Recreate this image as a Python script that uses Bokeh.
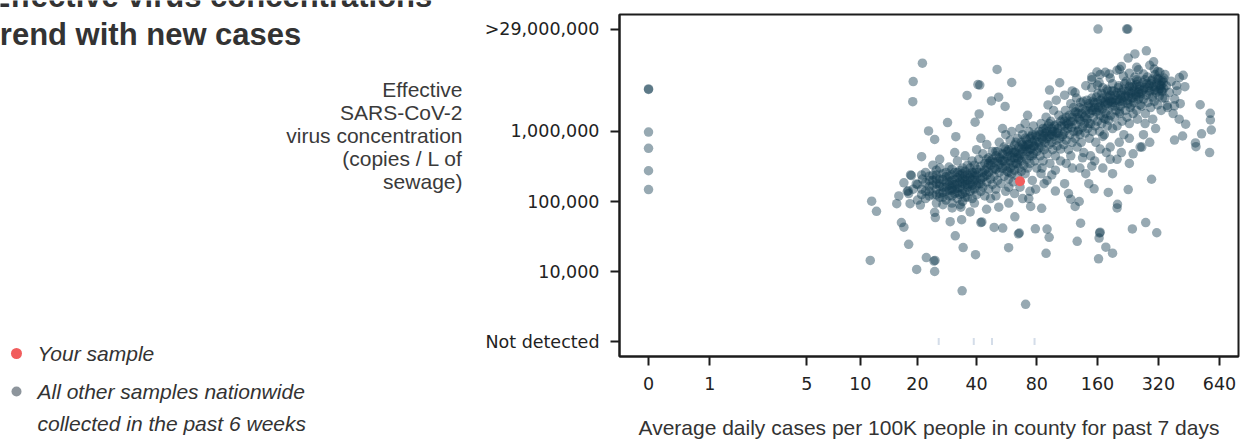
import numpy as np
from bokeh.plotting import figure
from bokeh.layouts import row
from bokeh.models import Range1d, FixedTicker, CustomJSTickFormatter, Label, ColumnDataSource
from bokeh.embed import file_html
from bokeh.resources import INLINE

# ---------------- texts ----------------
title_lines = ["Effective virus concentrations", "trend with new cases"]
y_label_lines = ["Effective", "SARS-CoV-2", "virus concentration", "(copies / L of", "sewage)"]
x_label = "Average daily cases per 100K people in county for past 7 days"
legend_labels = ["Your sample", "All other samples nationwide", "collected in the past 6 weeks"]

# ---------------- axes ----------------
x_tick_cases = [0, 1, 5, 10, 20, 40, 80, 160, 320, 640]
y_tick_values = [1000, 10000, 100000, 1000000, 29000000]
y_tick_labels = ["Not detected", "10,000", "100,000", "1,000,000", ">29,000,000"]
not_detected_level = 1000  # copies / L used to draw "Not detected"

# ---------------- data: (cases per 100K, thousand copies / L) ----------------
your_sample = [(66, 195)]
not_detected_cases = [25.7, 38.7, 47.8, 78]

zero_case_samples = [(0, 3980), (0, 4050), (0, 980), (0, 575), (0, 275), (0, 148)]
capped_samples = [(161, 29000), (223, 29000), (226, 29000)]
upper_outliers = [(21.2, 9460), (50.7, 7700), (19.0, 5160), (18.9, 2670), (40.6, 4680), (41.5, 4600),
                  (60, 5010), (35.8, 3280), (104, 4970), (92.6, 3900), (279, 14200), (245, 12800),
                  (303, 9900), (227, 11200), (206, 7740), (183, 6640), (159, 7080), (250, 8250),
                  (150, 5500), (175, 7000), (210, 8500), (190, 4800)]
right_outliers = [(424, 6340), (406, 5900), (432, 4370), (393, 4550), (514, 2410), (576, 1820),
                  (577, 1460), (583, 1050), (572, 500), (487, 687), (490, 607), (522, 927),
                  (421, 862), (384, 754), (436, 1270), (384, 2330), (353, 2360)]
left_outliers = [(28.5, 1340), (22.8, 1020), (24.5, 770), (31.4, 843), (39.3, 1360), (41.2, 1780),
                 (47.5, 2730), (51.6, 3090), (55.6, 2280), (21, 437), (18.4, 240), (18.6, 235),
                 (17.7, 139), (17.9, 142), (19.7, 178), (21.2, 209)]
lower_outliers = [(296, 208), (227, 148), (201, 91), (154, 152), (181, 135), (118, 108), (130, 100),
                  (73, 110), (99, 141), (11.5, 101), (12.2, 72.5), (15.6, 93), (18.3, 93), (20.7, 89),
                  (24.5, 70), (24.7, 59), (16.5, 50), (17, 43), (18, 24.5), (22.2, 15.8), (24.3, 14.1),
                  (24.6, 14.4), (24.5, 10), (19.8, 10.7), (29.4, 51.5), (31.2, 32.4), (33.6, 55),
                  (34.2, 22), (39.5, 17.4), (42, 50), (42.5, 51), (49, 42.7), (54.1, 41.7), (57.9, 21.9),
                  (64.8, 34.5), (65.5, 35.5), (62.2, 60.5), (78.7, 40.7), (90, 40.4), (92.2, 30.8),
                  (89, 18.2), (127, 27), (132, 49), (164, 35.6), (165, 36.5), (163, 30), (176, 22.3),
                  (190, 18.3), (162, 15.2), (238, 40.6), (277, 50), (314, 35.8), (33.8, 5.3),
                  (70.4, 3.4), (11.3, 14.4), (37.1, 71), (33.3, 83), (51.7, 83), (74.6, 85), (84.6, 80),
                  (124, 85), (200, 81), (44.9, 77.5), (30.1, 81), (62, 130), (68, 110), (74, 140),
                  (58, 95), (90, 200), (110, 180), (140, 250), (170, 300), (200, 400), (230, 350),
                  (115, 130), (260, 600), (85, 300), (95, 240), (105, 380), (120, 300), (135, 420),
                  (150, 320), (165, 560), (185, 400), (210, 500), (240, 480), (145, 180), (190, 250)]
band_low = [(16, 120), (17, 185), (19, 150), (20, 105), (21, 240), (18, 130), (20, 175), (21, 125),
            (22, 110), (22, 140), (23, 165), (23, 200), (24, 125), (24, 240), (25, 95), (25, 150),
            (25, 180), (26, 130), (26, 210), (26, 300), (27, 115), (27, 160), (27, 250), (28, 140),
            (28, 190), (28, 105), (22, 260), (24, 330), (26, 400), (23, 120), (27, 90), (25, 280),
            (29, 120), (29, 170), (29, 230), (30, 95), (30, 145), (30, 200), (30, 290), (31, 130),
            (31, 175), (31, 260), (32, 110), (32, 155), (32, 220), (32, 380), (33, 125), (33, 190),
            (33, 240), (34, 100), (34, 150), (34, 210), (34, 300), (35, 135), (35, 175), (35, 270),
            (35, 450), (36, 115), (36, 200), (36, 330), (29, 310), (31, 500), (33, 90), (36, 160),
            (37, 140), (37, 220), (37, 300), (38, 110), (38, 170), (38, 260), (38, 380), (39, 150),
            (39, 200), (39, 330), (40, 125), (40, 240), (40, 290), (40, 550), (41, 180), (41, 400),
            (42, 140), (42, 210), (42, 320), (43, 160), (43, 260), (43, 480), (44, 120), (44, 230),
            (44, 350), (45, 190), (45, 300), (45, 650), (46, 150), (46, 260), (46, 420), (47, 210),
            (47, 330), (48, 175), (48, 280), (48, 520), (39, 95), (42, 800), (47, 110)]
band_mid = [(49, 230), (49, 360), (50, 150), (50, 290), (50, 450), (51, 200), (51, 520), (52, 260),
            (52, 340), (52, 700), (53, 180), (53, 400), (54, 300), (54, 480), (55, 230), (55, 380),
            (55, 600), (56, 140), (56, 320), (56, 900), (57, 270), (57, 430), (58, 210), (58, 350),
            (58, 550), (59, 300), (59, 750), (60, 250), (60, 420), (60, 1000), (61, 190), (61, 330),
            (61, 500), (62, 280), (62, 640), (50, 120), (54, 1100), (58, 160),
            (63, 350), (63, 520), (64, 230), (64, 420), (64, 800), (65, 300), (65, 600), (66, 460),
            (66, 1100), (67, 270), (67, 380), (67, 700), (68, 520), (68, 900), (69, 330), (69, 440),
            (70, 250), (70, 600), (70, 1300), (71, 400), (71, 760), (72, 300), (72, 520), (73, 650),
            (73, 1000), (74, 450), (74, 350), (75, 560), (75, 850), (76, 200), (76, 700), (77, 480),
            (77, 1200), (78, 380), (78, 620), (79, 900), (80, 520), (80, 300), (66, 160), (72, 1700),
            (79, 150), (82, 700), (82, 1000), (83, 450), (84, 600), (84, 1300), (85, 800), (86, 380),
            (86, 1100), (87, 550), (88, 950), (88, 700), (89, 1600), (90, 480), (90, 800), (91, 1200),
            (92, 650), (93, 900), (93, 350), (94, 1400), (95, 700), (95, 1100), (96, 550), (97, 850),
            (97, 2000), (98, 1000), (99, 450), (100, 750), (100, 1250), (101, 620), (102, 950),
            (103, 1700), (104, 800), (105, 560), (84, 250), (91, 2400), (99, 280), (87, 180),
            (106, 1200), (107, 850), (108, 1500), (109, 650), (110, 1000), (111, 2000), (112, 750),
            (113, 1300), (114, 1100), (115, 550), (116, 1700), (117, 900), (118, 2500), (119, 1150),
            (120, 700), (121, 1400), (122, 1000), (123, 1900), (124, 800), (125, 1250), (126, 3000),
            (127, 600), (128, 1600), (129, 1050), (130, 2200), (131, 900), (132, 1400), (133, 700),
            (134, 1800), (135, 1150), (136, 2700), (137, 500), (138, 1300), (139, 950), (140, 2000),
            (112, 350), (124, 3600), (131, 300), (118, 450)]
band_high = [(142, 1500), (143, 1100), (144, 2300), (146, 800), (147, 1800), (148, 1300), (150, 3000),
             (151, 1000), (152, 2000), (153, 1600), (155, 2600), (156, 1200), (157, 700), (158, 1900),
             (160, 1400), (161, 3500), (162, 2200), (164, 1000), (165, 1700), (166, 2800), (168, 1300),
             (169, 2100), (170, 4200), (172, 1550), (173, 900), (175, 2400), (176, 1800), (178, 3200),
             (179, 1200), (180, 2000), (182, 1450), (184, 2700), (185, 600), (186, 1700), (188, 3800),
             (189, 2300), (190, 1100), (148, 450), (163, 5000), (177, 500), (155, 380), (150, 4200),
             (160, 4600), (170, 850), (180, 3800),
             (192, 2600), (194, 1600), (196, 3300), (198, 2000), (200, 1200), (202, 2900), (204, 4500),
             (206, 1800), (208, 2300), (210, 3600), (212, 1400), (214, 2700), (216, 900), (218, 3100),
             (220, 2000), (222, 5200), (224, 1600), (226, 2500), (228, 3800), (230, 1300), (232, 2200),
             (235, 3000), (238, 4300), (240, 1800), (242, 2600), (245, 6000), (248, 3400), (250, 2000),
             (252, 1500), (255, 2900), (258, 4000), (260, 2400), (205, 700), (230, 800), (250, 5500),
             (262, 3500), (265, 2300), (268, 5000), (270, 2900), (273, 4200), (276, 1800), (279, 3300),
             (282, 6000), (285, 2600), (288, 4600), (290, 3800), (293, 2200), (296, 5300), (299, 3100),
             (302, 4400), (305, 2700), (308, 6500), (311, 3600), (314, 4900), (317, 2400), (320, 5600),
             (323, 3200), (326, 4100), (330, 2000), (334, 3700), (338, 5000), (275, 1300), (300, 1500),
             (318, 7200), (270, 900), (290, 700), (310, 1100), (265, 600),
             (345, 3000), (350, 4500), (355, 2200), (362, 3600), (370, 5200), (378, 1800), (385, 2900),
             (395, 3800), (405, 1500), (410, 2500), (330, 4500), (335, 3000), (340, 5800), (332, 3900)]
band_core = [(24, 170), (25, 210), (26, 165), (27, 135), (28, 225), (29, 145), (30, 175), (31, 205),
             (32, 135), (33, 160), (34, 250), (35, 115), (36, 240), (37, 180), (38, 205), (39, 260),
             (40, 170), (26, 115), (30, 120), (34, 180),
             (46, 350), (48, 400), (51, 380), (53, 300), (56, 560), (59, 450), (62, 420), (65, 480),
             (68, 650), (71, 560), (74, 800), (77, 620), (80, 700), (83, 900), (86, 750), (89, 1100),
             (92, 850), (96, 1000), (100, 950), (58, 260), (64, 350), (76, 450),
             (110, 1400), (115, 1250), (120, 1600), (125, 1900), (130, 1500), (135, 2100), (140, 1700),
             (145, 2500), (150, 2000), (155, 2200), (160, 2600), (165, 2300), (170, 3000), (175, 2700),
             (180, 2500), (185, 3300), (190, 2900), (195, 2300), (200, 3600), (205, 2700), (210, 3000),
             (215, 4000), (220, 3300), (225, 2800), (230, 4400), (235, 3500), (240, 3000), (245, 3900),
             (250, 4700), (255, 3600), (260, 3100), (270, 4000), (280, 4800), (290, 3500), (300, 5600),
             (310, 4300), (320, 3800), (330, 5200), (340, 4100), (128, 1000), (145, 1300), (175, 1500),
             (205, 1900), (235, 2400)]
band_core_2 = [(21, 150), (22, 185), (23, 140), (24, 200), (25, 125), (25, 240), (26, 180), (27, 205),
               (28, 160), (29, 195), (30, 155), (30, 240), (31, 150), (32, 180), (32, 260), (33, 210),
               (34, 130), (35, 200), (35, 230), (36, 175), (37, 250), (38, 150), (39, 230), (40, 200),
               (41, 260), (42, 180), (43, 220), (44, 280), (45, 240), (23, 230), (28, 260), (33, 280),
               (45, 400), (47, 380), (49, 300), (50, 520), (52, 420), (54, 380), (55, 470), (57, 520),
               (59, 380), (60, 560), (62, 500), (63, 700), (65, 400), (67, 560), (69, 620), (70, 800),
               (72, 650), (74, 560), (76, 900), (78, 750), (80, 850), (82, 580), (85, 1000), (87, 850),
               (90, 1000), (92, 1300), (95, 900), (98, 1200), (102, 1100), (105, 1400), (108, 900),
               (110, 1200), (112, 1600), (118, 1400), (122, 2200), (128, 1800), (132, 2600),
               (138, 1600), (142, 2800), (148, 2200), (152, 2700), (158, 3100), (163, 2000), (168, 3500),
               (172, 2600), (178, 4000), (182, 3000), (188, 2600), (193, 3800), (198, 2800), (203, 4200),
               (208, 3300), (213, 2500), (218, 4800), (223, 3800), (228, 3200), (233, 5000), (238, 3700),
               (243, 4500), (248, 3200), (253, 5200), (258, 4400), (265, 3800), (275, 5500), (285, 4200),
               (295, 4800), (305, 3900), (315, 5800), (325, 4600), (335, 5400)]
upper_spread = [(150, 6000), (165, 6500), (185, 5800), (200, 7500), (215, 6200), (230, 6800),
                (255, 7600), (270, 6600), (290, 8800), (305, 7800), (325, 7000), (345, 6500),
                (140, 4500), (120, 3800), (100, 2800), (110, 3300)]

other_samples = (zero_case_samples + capped_samples + upper_outliers + right_outliers + left_outliers
                 + lower_outliers + band_low + band_mid + band_high + band_core + band_core_2
                 + upper_spread)


def to_xy(samples):
    cases = np.array([s[0] for s in samples], dtype=float)
    conc = np.array([s[1] for s in samples], dtype=float) * 1000.0
    return np.log2(cases + 1.0), conc


# ---------------- styles ----------------
SANS = "Liberation Sans"
TICK_FONT = "DejaVu Sans"
INK = "#1c1c1c"
TEXT = "#333333"
POINT = "#123b50"
RED = "#f15d5d"

W, H = 1252, 448
LEFT_W = 470
FL, FR, FT, FB = 619, 1238, 14, 356   # scatter frame edges in page pixels

# ---------------- scatter figure ----------------
p = figure(width=W - LEFT_W, height=H,
           x_range=Range1d(-0.474, 9.634), y_range=Range1d(611, 4.69e7),
           y_axis_type="log", output_backend="svg", toolbar_location=None,
           min_border_left=FL - LEFT_W, min_border_right=W - FR, min_border_top=FT,
           min_border_bottom=H - FB,
           background_fill_color="white", border_fill_color="white",
           outline_line_color=INK, outline_line_width=2)
p.grid.visible = False
p.frame_align = False

ox, oy = to_xy(other_samples)
p.scatter(x="x", y="y", source=ColumnDataSource(dict(x=ox, y=oy)), size=9.5,
          fill_color=POINT, fill_alpha=0.44, line_color=None)

ndx = np.log2(np.array(not_detected_cases) + 1.0)
p.scatter(x=ndx, y=[not_detected_level] * len(ndx), marker="dash", angle=np.pi / 2, size=7,
          line_color="#b7c7db", line_width=2, line_alpha=0.6)

yx, yy = to_xy(your_sample)
p.scatter(x=yx, y=yy, size=10, fill_color=RED, line_color=None)

xa = p.xaxis[0]
xa.ticker = FixedTicker(ticks=[float(np.log2(c + 1.0)) for c in x_tick_cases])
xa.formatter = CustomJSTickFormatter(code="return String(Math.round(Math.pow(2, tick) - 1));")
xa.axis_label = x_label
xa.axis_label_text_font = SANS
xa.axis_label_text_font_style = "normal"
xa.axis_label_text_font_size = "21px"
xa.axis_label_text_color = TEXT
xa.axis_label_standoff = 23
xa.major_label_standoff = 11

ya = p.yaxis[0]
ya.ticker = FixedTicker(ticks=y_tick_values)
ya.major_label_overrides = dict(zip(y_tick_values, y_tick_labels))
ya.major_label_standoff = 11

for ax in (xa, ya):
    ax.axis_line_color = INK
    ax.axis_line_width = 2
    ax.major_tick_line_color = INK
    ax.major_tick_line_width = 2
    ax.major_tick_out = 9
    ax.major_tick_in = 0
    ax.minor_tick_line_color = None
    ax.major_label_text_font = TICK_FONT
    ax.major_label_text_font_size = "17.5px"
    ax.major_label_text_color = "#222222"

# ---------------- left panel: title, y label, legend (page-pixel coordinates) ----------------
q = figure(width=LEFT_W, height=H, x_range=Range1d(0, LEFT_W), y_range=Range1d(H, 0),
           output_backend="svg", toolbar_location=None, min_border=0,
           min_border_left=0, min_border_right=0, min_border_top=0, min_border_bottom=0,
           x_axis_location=None, y_axis_location=None, outline_line_color=None,
           background_fill_color="white", border_fill_color="white")
q.grid.visible = False
q.frame_align = False

for txt, yb in zip(title_lines, [-4, 34]):
    q.add_layout(Label(x=-11, y=yb, text=txt, text_font=SANS, text_font_size="31px",
                       text_font_style="bold", text_color=TEXT, text_baseline="alphabetic"))

for i, txt in enumerate(y_label_lines):
    q.add_layout(Label(x=462, y=89 + 23 * i, text=txt, text_font=SANS, text_font_size="21px",
                       text_color="#3a3a3a", text_align="right", text_baseline="middle"))

q.scatter(x=[16], y=[353], size=11, fill_color=RED, line_color=None)
q.scatter(x=[16], y=[391], size=10, fill_color="#8d959c", line_color=None)
for txt, yc in zip(legend_labels, [353, 391, 423]):
    q.add_layout(Label(x=37, y=yc, text=txt, text_font=SANS, text_font_size="21px",
                       text_font_style="italic", text_color=TEXT, text_baseline="middle"))

layout = row(q, p)
open("out.html", "w").write(file_html(layout, INLINE))
